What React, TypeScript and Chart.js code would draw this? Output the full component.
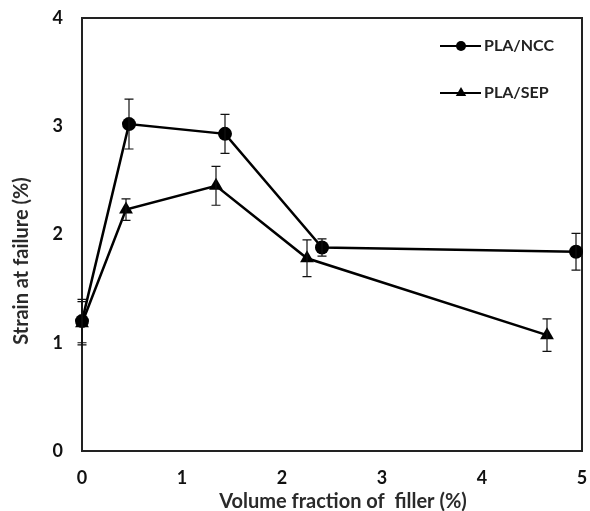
import React, { useEffect, useRef } from "react";
import { Chart, registerables } from "chart.js";

Chart.register(...registerables);

const nccX = [0, 0.47, 1.43, 2.4, 4.94];
const nccY = [1.2, 3.02, 2.93, 1.88, 1.84];
const nccErr = [0.2, 0.23, 0.18, 0.08, 0.17];

const sepX = [0, 0.44, 1.34, 2.25, 4.65];
const sepY = [1.18, 2.23, 2.45, 1.78, 1.07];
const sepErr = [0.2, 0.1, 0.18, 0.17, 0.15];

const seriesLabels = ["PLA/NCC", "PLA/SEP"];
const xTitle = "Volume fraction of  filler (%)";
const yTitle = "Strain at failure (%)";

const FONT = "Lato, 'Open Sans', sans-serif";

const errorBarPlugin = {
  id: "errorBars",
  afterDatasetsDraw(chart: any) {
    const ctx = chart.ctx;
    const xs = chart.scales.x;
    const ys = chart.scales.y;
    const errs = [nccErr, sepErr];
    ctx.save();
    ctx.strokeStyle = "#111";
    ctx.lineWidth = 1.2;
    chart.data.datasets.forEach((ds: any, di: number) => {
      ds.data.forEach((p: any, i: number) => {
        const e = errs[di][i];
        const px = xs.getPixelForValue(p.x);
        const top = ys.getPixelForValue(p.y + e);
        const bot = ys.getPixelForValue(p.y - e);
        ctx.beginPath();
        ctx.moveTo(px, top);
        ctx.lineTo(px, bot);
        ctx.moveTo(px - 4.5, top);
        ctx.lineTo(px + 4.5, top);
        ctx.moveTo(px - 4.5, bot);
        ctx.lineTo(px + 4.5, bot);
        ctx.stroke();
      });
    });
    ctx.restore();
  },
};

const framePlugin = {
  id: "frame",
  beforeDatasetsDraw(chart: any) {
    const { ctx, chartArea } = chart;
    ctx.save();
    ctx.strokeStyle = "#222";
    ctx.lineWidth = 2;
    ctx.strokeRect(chartArea.left, chartArea.top, chartArea.right - chartArea.left, chartArea.bottom - chartArea.top);
    ctx.restore();
  },
  afterDraw(chart: any) {
    const { ctx } = chart;
    ctx.save();
    ctx.fillStyle = "#2a2a2a";
    ctx.font = `bold 20px ${FONT}`;
    ctx.textAlign = "center";
    ctx.textBaseline = "alphabetic";
    ctx.fillText(xTitle, 343, 508);
    ctx.translate(28, 261);
    ctx.rotate(-Math.PI / 2);
    ctx.fillText(yTitle, 0, 0);
    ctx.restore();

    // legend
    ctx.save();
    const items = [
      { y: 46, style: "circle", r: 5 },
      { y: 93, style: "triangle", r: 6 },
    ];
    items.forEach((it, i) => {
      ctx.strokeStyle = "#000";
      ctx.fillStyle = "#000";
      ctx.lineWidth = 2;
      ctx.beginPath();
      ctx.moveTo(440, it.y);
      ctx.lineTo(481, it.y);
      ctx.stroke();
      ctx.beginPath();
      if (it.style === "circle") {
        ctx.arc(461, it.y, it.r, 0, Math.PI * 2);
      } else {
        ctx.moveTo(461, it.y - it.r);
        ctx.lineTo(461 + it.r * 0.87, it.y + it.r * 0.5);
        ctx.lineTo(461 - it.r * 0.87, it.y + it.r * 0.5);
        ctx.closePath();
      }
      ctx.fill();
      ctx.fillStyle = "#222";
      ctx.font = `bold 16px ${FONT}`;
      ctx.textAlign = "left";
      ctx.textBaseline = "middle";
      ctx.fillText(seriesLabels[i], 484, it.y);
    });
    ctx.restore();
  },
};

export default function App() {
  const ref = useRef<HTMLCanvasElement | null>(null);
  useEffect(() => {
    document.body.style.margin = "0";
    const canvas = ref.current;
    if (!canvas) return;
    const chart = new Chart(canvas, {
      type: "line",
      data: {
        datasets: [
          {
            label: seriesLabels[0],
            data: nccX.map((x, i) => ({ x, y: nccY[i] })),
            borderColor: "#000",
            backgroundColor: "#000",
            borderWidth: 2.5,
            pointStyle: "circle",
            pointRadius: 7,
            pointBorderWidth: 0,
            clip: false,
          },
          {
            label: seriesLabels[1],
            data: sepX.map((x, i) => ({ x, y: sepY[i] })),
            borderColor: "#000",
            backgroundColor: "#000",
            borderWidth: 2.5,
            pointStyle: "triangle",
            pointRadius: 8,
            pointBorderWidth: 0,
            clip: false,
          },
        ],
      },
      options: {
        animation: false,
        responsive: false,
        maintainAspectRatio: false,
        layout: { padding: { top: 18, right: 8, left: 0, bottom: 0 } },
        plugins: { legend: { display: false }, tooltip: { enabled: false } },
        scales: {
          x: {
            type: "linear",
            min: 0,
            max: 5,
            grid: { display: false, drawTicks: false },
            border: { display: true, color: "#222", width: 2 },
            ticks: { stepSize: 1, padding: 16, color: "#111", font: { family: FONT, size: 18, weight: "bold" } },
            afterFit(scale: any) {
              scale.height = 60;
              scale.paddingRight = 0;
              scale.paddingLeft = 0;
            },
          },
          y: {
            min: 0,
            max: 4,
            grid: { display: false, drawTicks: false },
            border: { display: true, color: "#222", width: 2 },
            ticks: { stepSize: 1, padding: 19, color: "#111", font: { family: FONT, size: 18, weight: "bold" } },
            afterFit(scale: any) {
              scale.width = 82;
              scale.paddingTop = 0;
              scale.paddingBottom = 0;
            },
          },
        },
      } as any,
      plugins: [errorBarPlugin, framePlugin],
    });
    return () => chart.destroy();
  }, []);
  return (
    <div style={{ width: 590, height: 511 }}>
      <canvas ref={ref} width={590} height={511} style={{ width: 590, height: 511, display: "block" }} />
    </div>
  );
}
